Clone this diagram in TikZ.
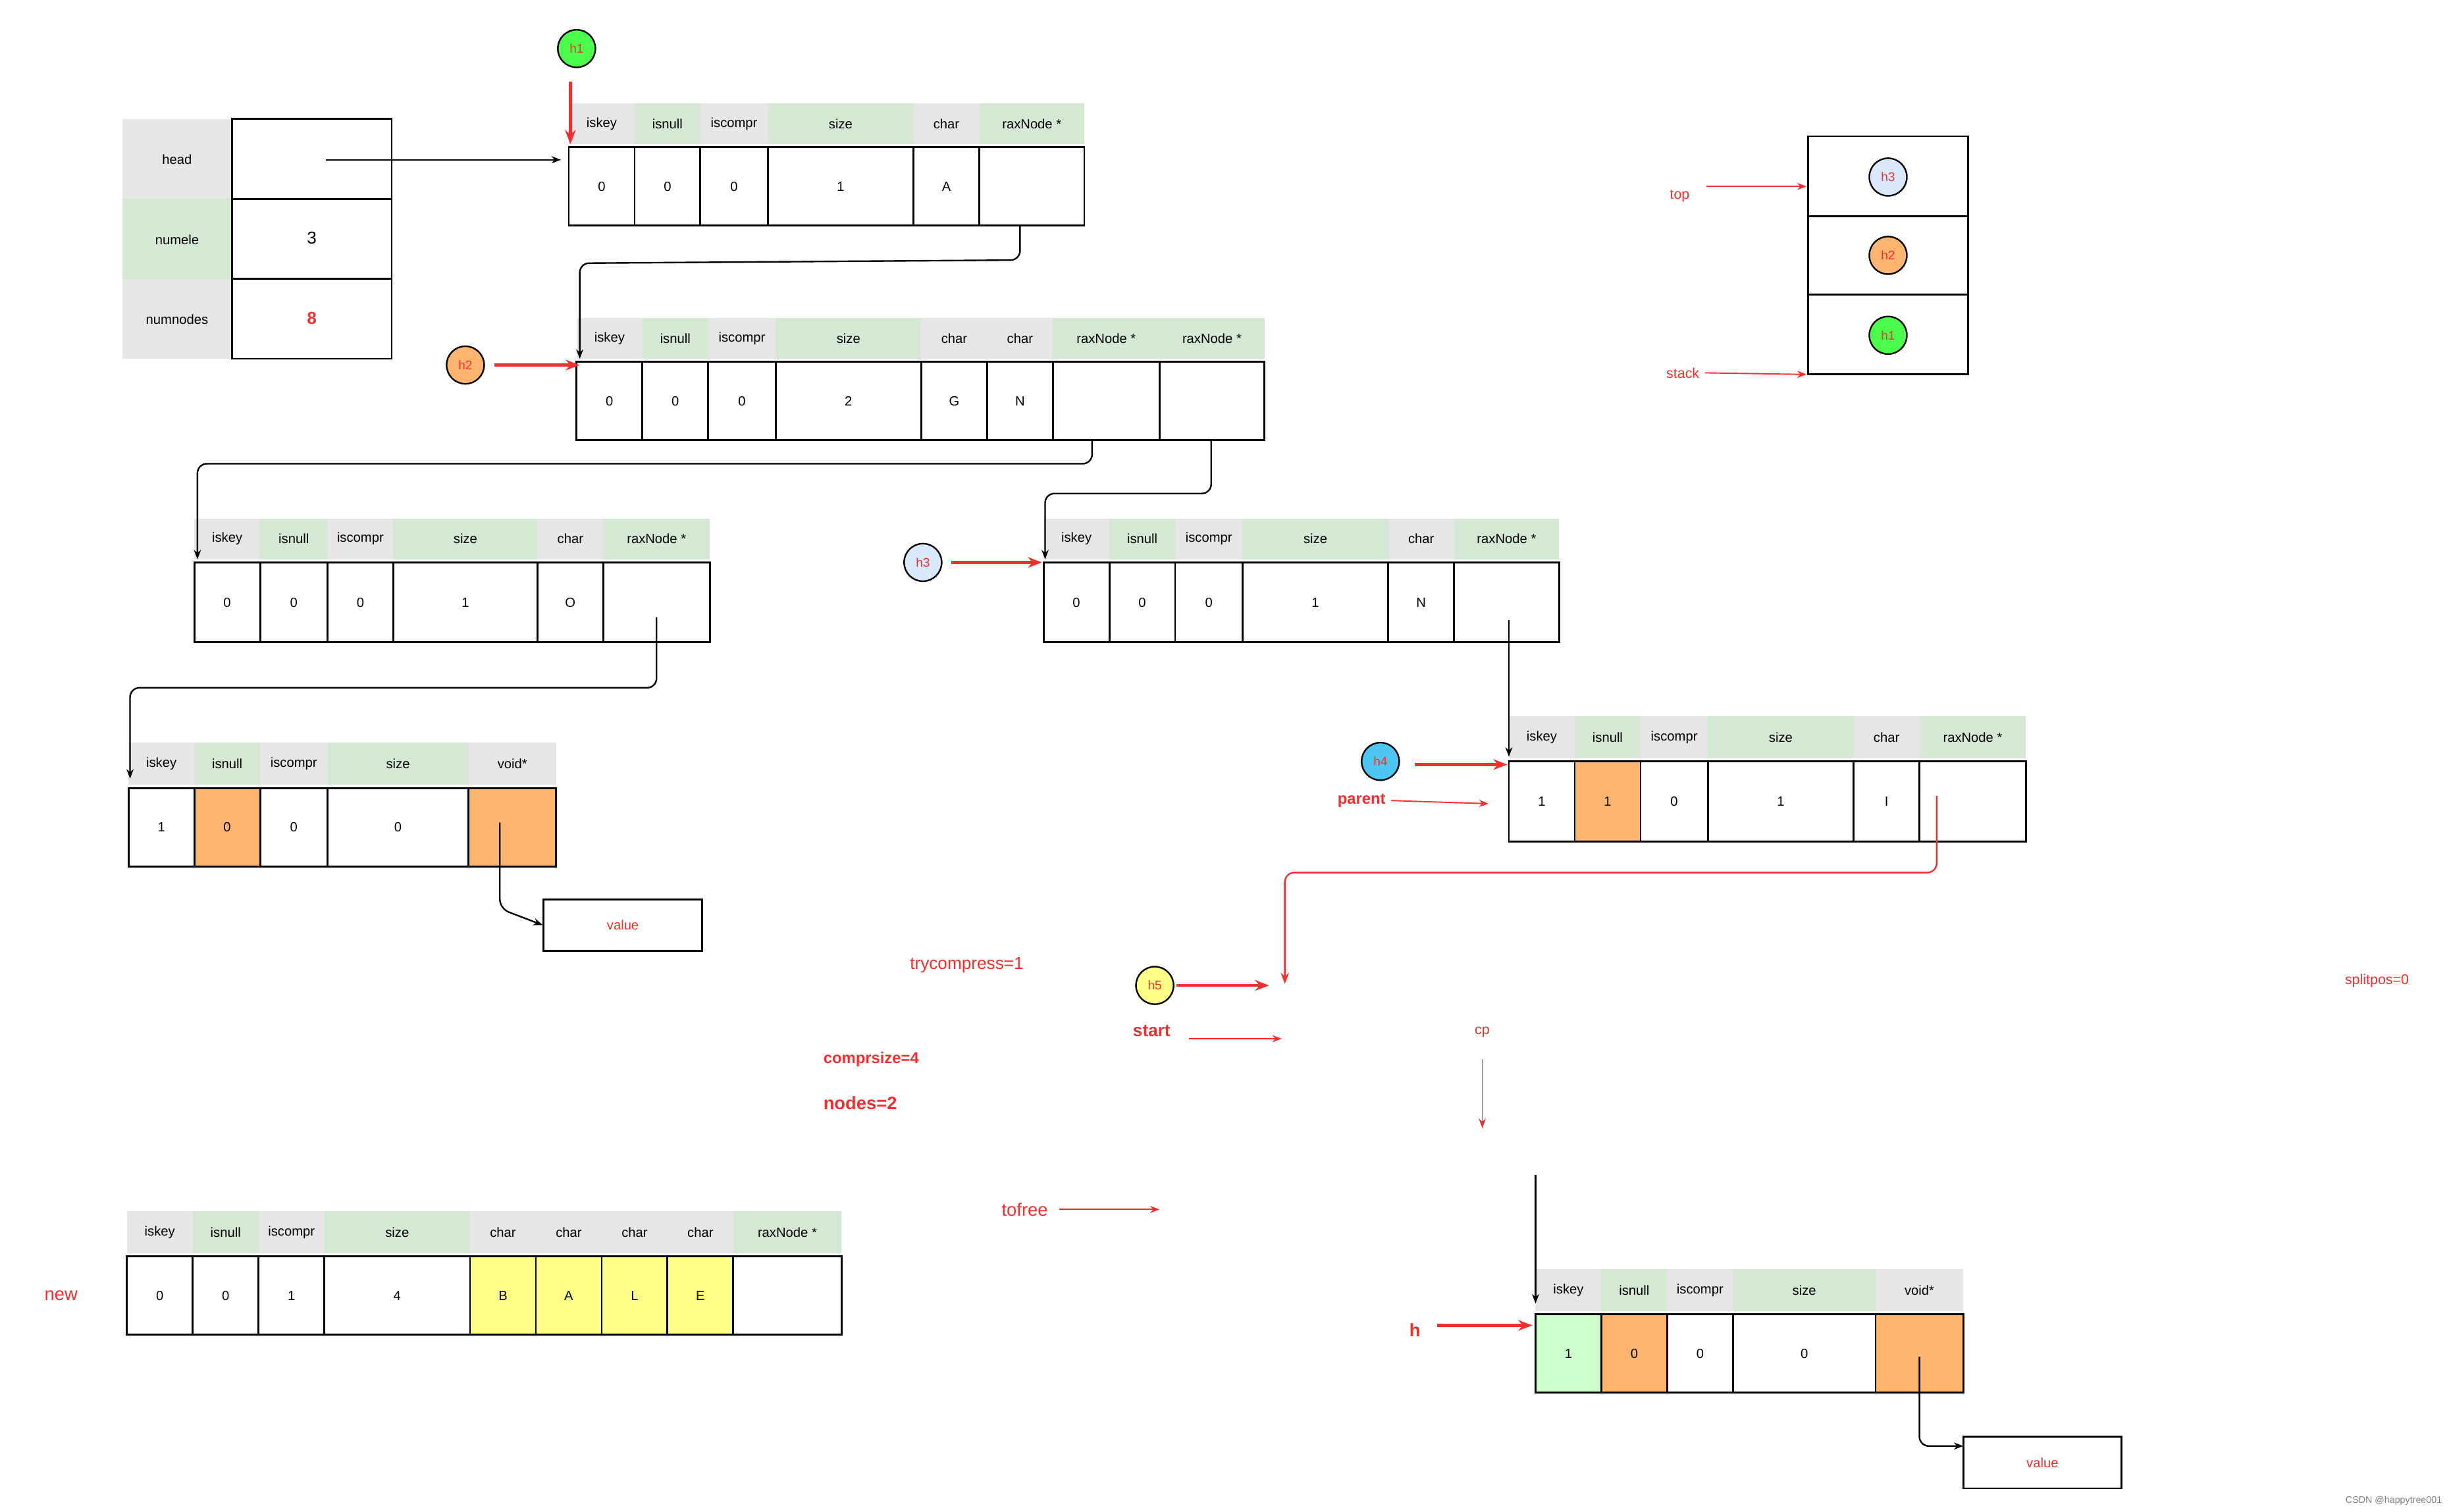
\documentclass[tikz,border=0pt]{standalone}
\usepackage{fontspec}
\setmainfont{Liberation Sans}
\usetikzlibrary{arrows.meta}
\definecolor{hg}{HTML}{E6E6E6}
\definecolor{hgr}{HTML}{D5E8D4}
\definecolor{org}{HTML}{FFB570}
\definecolor{yel}{HTML}{FFFF88}
\definecolor{lgr}{HTML}{CCFFCC}
\definecolor{lav}{HTML}{DAE8FC}
\definecolor{rd}{HTML}{F03030}
\newcommand\rec[4]{%
 \foreach \a/\b/\h/\hf/\t/\bf in {#4}{%
  \fill[\hf] (\a,#1) rectangle (\b,#2);
  \node[ht] at ({(\a+\b)/2},{(#1+#2)/2}) {\h};
  \draw[cell,fill=\bf] (\a,#2+2) rectangle (\b,#3);
  \node[ht] at ({(\a+\b)/2},{(#2+2+#3)/2}) {\t};
 }}
\begin{document}
\begin{tikzpicture}[x=1pt,y=-1pt,
 ht/.style={font=\fontsize{8.5}{10}\selectfont,inner sep=0},
 cell/.style={line width=1.2pt},
 con/.style={line width=1pt,rounded corners=6,-{Stealth[length=6pt]}},
 rarr/.style={rd,line width=2pt,-{Stealth[length=9pt]}},
 rthin/.style={rd,line width=0.8pt,-{Stealth[length=6pt]}},
 rt/.style={rd,font=\fontsize{10}{12}\selectfont},
 circ/.style={circle,draw,line width=1pt,minimum size=24pt,inner sep=0,font=\fontsize{8}{10}\selectfont,text=rd}]
\useasboundingbox[fill=white] (0,0) rectangle (1563,965);
% head table
\fill[hg] (78,76) rectangle (148,127); \fill[hgr] (78,127) rectangle (148,178); \fill[hg] (78,178) rectangle (148,229);
\node[ht] at (113,102) {head}; \node[ht] at (113,153) {numele}; \node[ht] at (113,204) {numnodes};
\draw[cell] (148,76) rectangle (250,127); \draw[cell] (148,127) rectangle (250,178); \draw[cell] (148,178) rectangle (250,229);
\node[font=\fontsize{11}{12}\selectfont] at (199,152) {3};
\node[font=\bfseries\fontsize{11}{12}\selectfont,text=rd] at (199,203) {8};
\coordinate (hd) at (208,102);
% node1
\rec{66}{92}{144}{363/405/iskey/hg/0/white,405/447/isnull/hgr/0/white,447/490/iscompr/hg/0/white,490/583/size/hgr/1/white,583/625/char/hg/A/white,625/692/raxNode */hgr//white}
\coordinate (n1) at (358,102); \coordinate (n1p) at (651,144);
% node2
\rec{203}{229}{281}{368/410/iskey/hg/0/white,410/452/isnull/hgr/0/white,452/495/iscompr/hg/0/white,495/588/size/hgr/2/white,588/630/char/hg/G/white,630/672/char/hg/N/white,672/740/raxNode */hgr//white,740/807/raxNode */hgr//white}
% node3
\rec{331}{357}{410}{124/166/iskey/hg/0/white,166/209/isnull/hgr/0/white,209/251/iscompr/hg/0/white,251/343/size/hgr/1/white,343/385/char/hg/O/white,385/453/raxNode */hgr//white}
% node4
\rec{331}{357}{410}{666/708/iskey/hg/0/white,708/750/isnull/hgr/0/white,750/793/iscompr/hg/0/white,793/886/size/hgr/1/white,886/928/char/hg/N/white,928/995/raxNode */hgr//white}
% node5
\rec{457}{484}{537}{963/1005/iskey/hg/1/white,1005/1047/isnull/hgr/1/org,1047/1090/iscompr/hg/0/white,1090/1183/size/hgr/1/white,1183/1225/char/hg/I/white,1225/1293/raxNode */hgr//white}
% node6
\rec{474}{501}{553}{82/124/iskey/hg/1/white,124/166/isnull/hgr/0/org,166/209/iscompr/hg/0/white,209/299/size/hgr/0/white,299/355/void*/hg//org}
\node[draw,cell,minimum width=101pt,minimum height=33pt,inner sep=0,font=\fontsize{8.5}{10}\selectfont,text=rd] (v1) at (397.5,590.5) {value};
% new node
\rec{773}{800}{852}{81/123/iskey/hg/0/white,123/165/isnull/hgr/0/white,165/207/iscompr/hg/1/white,207/300/size/hgr/4/white,300/342/char/hg/B/yel,342/384/char/hg/A/yel,384/426/char/hg/L/yel,426/468/char/hg/E/yel,468/537/raxNode */hgr//white}
% bottom right
\rec{810}{837}{889}{980/1022/iskey/hg/1/lgr,1022/1064/isnull/hgr/0/org,1064/1106/iscompr/hg/0/white,1106/1197/size/hgr/0/white,1197/1253/void*/hg//org}
\node[draw,cell,minimum width=101pt,minimum height=33pt,inner sep=0,font=\fontsize{8.5}{10}\selectfont,text=rd] (v2) at (1303.5,933.5) {value};
% stack
\draw[cell] (1154,87) rectangle (1256,138); \draw[cell] (1154,138) rectangle (1256,188); \draw[cell] (1154,188) rectangle (1256,239);
\node[circ,fill=lav] (s3) at (1205,113) {h3};
\node[circ,fill=org] (s2) at (1205,163) {h2};
\node[circ,fill=green!70!white] (s1) at (1205,214) {h1};
% circles
\node[circ,fill=green!70!white] (h1) at (368,31) {h1};
\node[circ,fill=org] (h2) at (297,233) {h2};
\node[circ,fill=lav] (h3) at (589,359) {h3};
\node[circ,fill=cyan!70!white] (h4) at (881,486) {h4};
\node[circ,fill=yel] (h5) at (737,629) {h5};
% black connectors
\draw[con] (hd) -- (n1);
\draw[con] (n1p) -- (651,166) -- (370,168) -- (370,229);
\draw[con] (697,281) -- (697,296) -- (126,296) -- (126,357);
\draw[con] (773,281) -- (773,315) -- (667,315) -- (667,357);
\draw[con] (419,394) -- (419,439) -- (83,439) -- (83,497);
\draw[con] (963,396) -- (963,483);
\draw[con] (319,525) -- (319,580) -- (v1.west);
\draw[con] (980,750) -- (980,832);
\draw[con] (1225,866) -- (1225,923) -- (1253,923);
\draw[rd,line width=1pt,rounded corners=6,-{Stealth[length=7pt]}] (1236,508) -- (1236,557) -- (820,557) -- (820,628);
% red arrows and labels
\draw[rarr] (364,52) -- (364,92);
\draw[rarr] (h2.east)+(6,0) -- (370,233);
\draw[rarr] (607,359) -- (665,359);
\draw[rarr] (903,488) -- (962,488);
\node[rt,font=\bfseries\fontsize{10}{12}\selectfont] (par) at (869,511) {parent};
\draw[rthin] (par.east) -- (950,513);
\draw[rarr] (751,629) -- (810,629);
\node[rt,font=\bfseries\fontsize{11}{12}\selectfont] (st) at (735,658) {start};
\draw[rthin] (759,663) -- (818,663);
\node[rt,font=\fontsize{9}{10}\selectfont] (cp) at (946,659) {cp};
\draw[rthin] (946,676) -- (946,720);
\node[rt,font=\fontsize{11}{12}\selectfont] at (617,616) {trycompress=1};
\node[rt,font=\bfseries\fontsize{10}{12}\selectfont] at (556,676) {comprsize=4};
\node[rt,font=\bfseries\fontsize{11.5}{12}\selectfont] at (549,704) {nodes=2};
\node[rt,font=\fontsize{11.5}{12}\selectfont] (tf) at (654,772) {tofree};
\draw[rthin] (tf.east)+(4,0) -- (740,772);
\node[rt,font=\fontsize{11.5}{12}\selectfont] at (39,827) {new};
\node[rt,font=\bfseries\fontsize{11.5}{12}\selectfont] at (903,849) {h};
\draw[rarr] (917,846) -- (978,846);
\node[rt,font=\fontsize{9}{10}\selectfont] (tp) at (1072,125) {top};
\draw[rthin] (1089,119) -- (1153,119);
\node[rt,font=\fontsize{9}{10}\selectfont] (stk) at (1074,238) {stack};
\draw[rthin] (stk.east) -- (1153,239);
\node[rt,font=\fontsize{9}{10}\selectfont] at (1517,626) {splitpos=0};
\node[text=gray,font=\fontsize{6}{7}\selectfont,anchor=east] at (1562,958) {CSDN @happytree001};
\end{tikzpicture}
\end{document}
